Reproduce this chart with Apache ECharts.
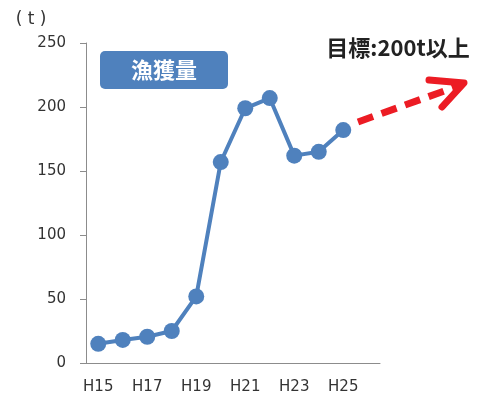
<!DOCTYPE html>
<html>
<head>
<meta charset="utf-8">
<script src="https://cdn.jsdelivr.net/npm/echarts@6/dist/echarts.min.js"></script>
<style>html,body{margin:0;padding:0;background:#fff;}#c{width:488px;height:401px;}</style>
</head>
<body>
<div id="c"></div>
<script>
const categories = ['H15','H16','H17','H18','H19','H20','H21','H22','H23','H24','H25','H26'];
const catch_t = [15, 18, 20.5, 25, 52, 157, 199, 207, 162, 165, 182, null];
const yTicks = { min: 0, max: 250, interval: 50 };
const unitLabel = '( t )';
const boxLabel = '漁獲量';
const goalLabel = '目標:200t以上';

const chart = echarts.init(document.getElementById('c'), null, { renderer: 'canvas' });
const axisFont = 'DejaVu Sans, Verdana, sans-serif';
const jpFont = '"Noto Sans CJK JP", sans-serif';
chart.setOption({
  animation: false,
  grid: { left: 86, right: 108, top: 43, bottom: 38 },
  xAxis: {
    type: 'category',
    data: categories,
    boundaryGap: true,
    axisLine: { show: true, lineStyle: { color: '#8c8c8c', width: 1 } },
    axisTick: { show: false },
    axisLabel: { interval: 1, color: '#333', fontSize: 15, fontFamily: axisFont, margin: 17 },
    splitLine: { show: false }
  },
  yAxis: {
    type: 'value',
    min: yTicks.min, max: yTicks.max, interval: yTicks.interval,
    axisLine: { show: true, lineStyle: { color: '#8c8c8c', width: 1 } },
    axisTick: { show: true, length: 6, lineStyle: { color: '#8c8c8c' } },
    axisLabel: { color: '#333', fontSize: 15, fontFamily: axisFont, margin: 20 },
    splitLine: { show: false }
  },
  series: [{
    type: 'line',
    data: catch_t,
    symbol: 'circle',
    symbolSize: 16,
    showAllSymbol: true,
    lineStyle: { color: '#4f81bd', width: 4 },
    itemStyle: { color: '#4f81bd' }
  }],
  graphic: [
    { type: 'text', x: 31, y: 20, style: { text: unitLabel, fontSize: 17, fontFamily: axisFont, fill: '#333', align: 'center', verticalAlign: 'middle' } },
    { type: 'rect', shape: { x: 100, y: 51, width: 128, height: 38, r: 5 }, style: { fill: '#4f81bd' } },
    { type: 'text', x: 164, y: 70, style: { text: boxLabel, fontSize: 22, fontWeight: 'bold', fontFamily: jpFont, fill: '#fff', align: 'center', verticalAlign: 'middle' } },
    { type: 'text', x: 398, y: 48, style: { text: goalLabel, fontSize: 22, fontWeight: 'bold', fontFamily: jpFont, fill: '#222', align: 'center', verticalAlign: 'middle' } },
    { type: 'line', shape: { x1: 358, y1: 122, x2: 458, y2: 86 }, style: { stroke: '#ec1c24', lineWidth: 7, lineDash: [16, 9] } },
    { type: 'polyline', shape: { points: [[429, 80], [464, 83], [442, 107]] }, style: { stroke: '#ec1c24', lineWidth: 7, lineJoin: 'round', lineCap: 'round', fill: null } }
  ]
});
</script>
</body>
</html>
